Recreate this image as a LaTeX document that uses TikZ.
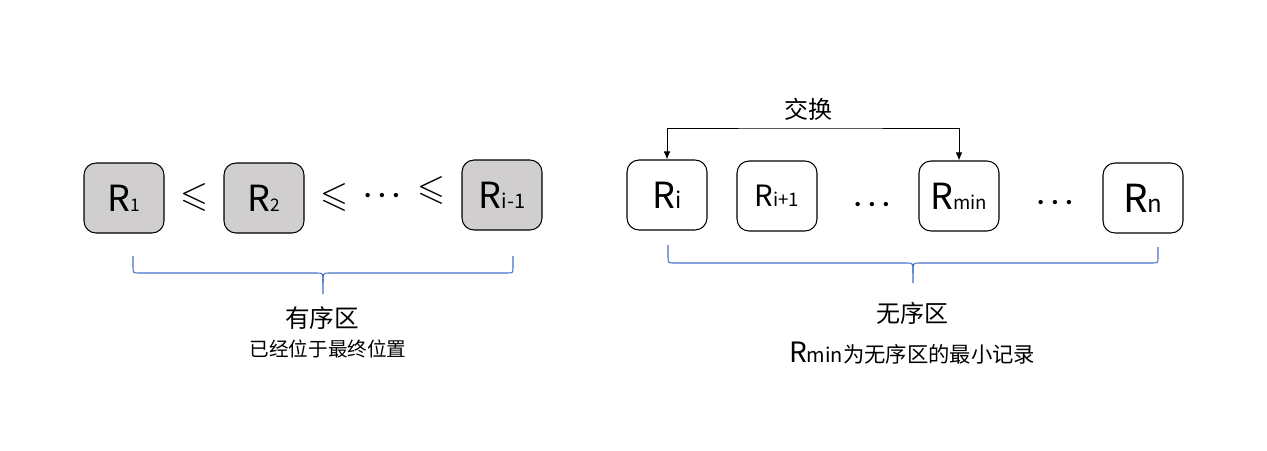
\documentclass[tikz,border=0pt]{standalone}
\usepackage{amssymb}
\usepackage{fontspec}
\usepackage{tikz}
\usetikzlibrary{arrows.meta}
\newfontfamily\cjk{Noto Sans CJK SC}
\definecolor{boxgray}{RGB}{208,206,206}
\definecolor{braceblue}{RGB}{68,114,196}
\newcommand{\rsub}[2]{{\fontsize{#1}{#1}\selectfont #2}}
\tikzset{rec/.style = {draw, rounded corners = 9pt, line width = 0.8pt, minimum width = 60pt, minimum height = 52.5pt, inner sep = 0}}
\tikzset{done/.style = {rec, fill = boxgray}}
\tikzset{rsize/.style = {font = \cjk\fontsize{#1}{#1}\selectfont}}
\tikzset{dotrow/.style = {font = \fontsize{22}{22}\selectfont\mathversion{bold}, anchor = base}}
\tikzset{brace/.style = {braceblue, line width = 0.8pt}}
\tikzset{xchg/.style = {line width = 0.75pt, {Latex[length = 6pt, width = 5pt]}-{Latex[length = 6pt, width = 5pt]}}}

\begin{document}
\begin{tikzpicture}[x = 0.75pt, y = -0.75pt]
  \useasboundingbox (0, 0) rectangle (1267, 450);
  % sorted part
  \foreach \name/\x/\y/\sub in {r1/124/198/1, r2/264/198/2} {
    \node [done, rsize = 27] (\name) at (\x, \y) {R\rsub{13}{\sub}};
  }
  \node [done, rsize = 27] (rprev) at (502, 195) {R\rsub{15}{i-1}};
  \foreach \x/\y in {194/197, 334/197, 431/190} {
    \node [rsize = 27] (le\x) at (\x, \y) {$\leqslant$};
  }
  \node [dotrow] (ldots) at (382, 202) {$\cdots$};
  % unsorted part
  \node [rec, rsize = 27] (ri) at (667, 195) {R\rsub{17}{i}};
  \node [rec, rsize = 22] (rnext) at (777, 196) {R\rsub{14}{i+1}};
  \node [rec, rsize = 27] (rmin) at (959, 196) {R\rsub{14}{min}};
  \node [rec, rsize = 29] (rn) at (1143, 198) {R\rsub{18}{n}};
  \node [dotrow] (mdots) at (872, 211) {$\cdots$};
  \node [dotrow] (rdots) at (1055, 209) {$\cdots$};
  % swap arrow
  \coordinate (xtop) at (808, 128);
  \node [rsize = 18] (xlabel) at (808, 109) {交换};
  \draw [xchg] (ri.north) |- (xtop) -| (rmin.north);
  % braces
  \draw [brace] (133, 256) -- (133, 267) .. controls (133, 273) .. (139, 273) -- (317, 273)
    .. controls (323, 273) .. (323, 283) -- (323, 294);
  \draw [brace] (323, 283) .. controls (323, 273) .. (329, 273) -- (507, 273)
    .. controls (513, 273) .. (513, 267) -- (513, 256);
  \draw [brace] (668, 245) -- (668, 257) .. controls (668, 263) .. (674, 263) -- (907, 263)
    .. controls (913, 263) .. (913, 273) -- (913, 283);
  \draw [brace] (913, 273) .. controls (913, 263) .. (919, 263) -- (1152, 263)
    .. controls (1158, 263) .. (1158, 257) -- (1158, 247);
  % labels
  \node [rsize = 18.5] (sorted) at (322, 318) {有序区};
  \node [rsize = 14.7] (sortednote) at (328, 349) {已经位于最终位置};
  \node [rsize = 18] (unsorted) at (912, 313) {无序区};
  \node [rsize = 21] (unsortednote) at (912, 353) {R\rsub{15}{min}\rsub{16}{为无序区的最小记录}};
\end{tikzpicture}
\end{document}
